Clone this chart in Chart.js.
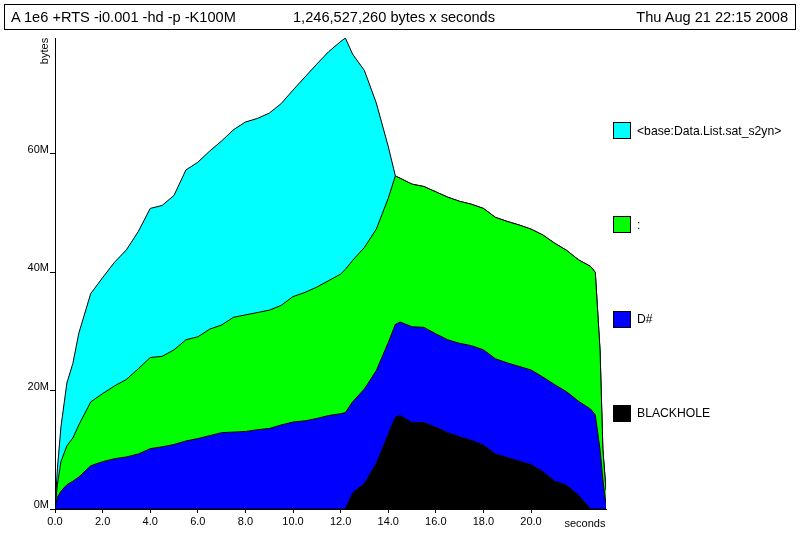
<!DOCTYPE html>
<html>
<head>
<meta charset="utf-8">
<title>heap profile</title>
<script src="https://cdn.jsdelivr.net/npm/chart.js@4.4.1/dist/chart.umd.min.js"></script>
<style>
  html, body { margin: 0; padding: 0; background: #fff; }
  body { position: relative; width: 800px; height: 533px; overflow: hidden;
         font-family: "Liberation Sans", Arial, sans-serif; color: #000; }
  canvas { position: absolute; left: 0; top: 0; }
  #titlebox { position: absolute; left: 4px; top: 4px; width: 790px; height: 24px;
              border: 1px solid #000; font-size: 14.6px; line-height: 24px; }
  #titlebox span { position: absolute; top: 0; white-space: nowrap; }
  .legend-box { position: absolute; left: 613px; width: 16px; height: 15px; border: 1px solid #000; }
  .legend-text { position: absolute; left: 637px; font-size: 12.2px; line-height: 14px; white-space: nowrap; }
  #ylabel { position: absolute; left: 24px; top: 44px; width: 40px; height: 14px; font-size: 11px;
            line-height: 14px; text-align: center; transform: rotate(-90deg); }
  #xlabel { position: absolute; left: 555px; top: 516px; width: 60px; font-size: 11px;
            line-height: 14px; text-align: center; }
</style>
</head>
<body>
<canvas id="heapChart" width="800" height="533"></canvas>
<div id="titlebox">
  <span style="left:6px">A 1e6 +RTS -i0.001 -hd -p -K100M</span>
  <span style="left:288px">1,246,527,260 bytes x seconds</span>
  <span style="right:7px">Thu Aug 21 22:15 2008</span>
</div>
<div id="ylabel">bytes</div>
<div id="xlabel">seconds</div>
<div id="legend"></div>
<script>
// sample times (seconds)
const times = [0, 0.1, 0.25, 0.5, 0.75, 1, 1.5, 2, 2.5, 3, 3.5, 4, 4.5, 5, 5.5, 6, 6.5, 7, 7.5, 8,
  8.5, 9, 9.5, 10, 10.5, 11, 11.5, 12, 12.2, 12.5, 13, 13.5, 14, 14.3, 14.5, 15, 15.5, 16, 16.5, 17,
  17.5, 18, 18.5, 19, 19.5, 20, 20.5, 21, 21.5, 22, 22.5, 22.7, 22.9, 23.02, 23.15];

// heap per closure type, in M bytes (bottom band first)
const blackhole = [0, 0, 0, 0, 0, 0, 0, 0, 0, 0, 0, 0, 0, 0, 0, 0, 0, 0, 0, 0,
  0, 0, 0, 0, 0, 0, 0, 0, 0, 2.7, 4.3, 7.7, 12.6, 15.5, 15.8, 14.6, 14.6, 13.8, 12.9, 12.2,
  11.6, 10.8, 9.3, 8.7, 8.1, 7.5, 6.3, 4.7, 4.0, 2.3, 0, 0, 0, 0, 0];
const dHash = [0, 2.0, 3.0, 4.1, 4.7, 5.4, 7.3, 8.0, 8.5, 8.8, 9.3, 10.2, 10.5, 10.9, 11.5, 11.9, 12.4, 12.9, 13.0, 13.1,
  13.4, 13.6, 14.2, 14.7, 14.9, 15.3, 15.8, 16.1, 16.3, 15.4, 16.0, 15.7, 15.5, 15.7, 15.8, 16.2, 16.1, 15.8, 15.7, 15.8,
  16.0, 16.1, 16.1, 16.0, 16.0, 16.0, 16.0, 16.3, 15.8, 15.9, 16.9, 15.9, 10.0, 4.9, 0.7];
const cons = [0, 2.1, 5.0, 6.6, 7.3, 8.8, 10.8, 11.5, 12.3, 13.1, 14.4, 15.4, 15.3, 16.0, 17.1, 17.2, 18.0, 18.2, 19.4, 19.7,
  19.8, 20.0, 20.2, 21.2, 21.7, 22.2, 22.8, 23.6, 24.2, 23.9, 23.9, 23.9, 24.4, 25.1, 24.3, 24.1, 23.8, 24.0, 24.1, 24.0,
  23.9, 23.9, 23.9, 23.9, 23.9, 23.8, 24.0, 23.9, 23.9, 23.9, 24.1, 24.1, 16.8, 5.1, 2.5];
const satS2yn = [0, 2.7, 5.9, 10.6, 12.6, 15.5, 18.3, 19.6, 20.9, 21.9, 23.2, 25.2, 25.5, 26.1, 28.7, 29.5, 30.1, 31.1, 31.7, 32.6,
  32.8, 33.3, 34.1, 34.9, 36.4, 37.7, 38.7, 39.3, 39.1, 34.9, 29.9, 21.3, 8.8, 0, 0, 0, 0, 0, 0, 0,
  0, 0, 0, 0, 0, 0, 0, 0, 0, 0, 0, 0, 0, 0, 0];

const bandNames = ['BLACKHOLE', 'D#', ':', '<base:Data.List.sat_s2yn>'];
const bandColors = ['#000000', '#0000ff', '#00ff00', '#00ffff'];
const xTicks = [0, 2, 4, 6, 8, 10, 12, 14, 16, 18, 20];
const yTicks = [0, 20, 40, 60];

const bands = [blackhole, dHash, cons, satS2yn];

Chart.defaults.font.family = '"Liberation Sans", Arial, sans-serif';
Chart.defaults.color = '#000';

new Chart(document.getElementById('heapChart'), {
  type: 'line',
  data: {
    datasets: bands.map((vals, i) => ({
      label: bandNames[i],
      data: times.map((t, j) => ({ x: t, y: vals[j] })),
      backgroundColor: bandColors[i],
      borderColor: '#000',
      borderWidth: 1,
      pointRadius: 0,
      tension: 0,
      fill: i === 0 ? 'origin' : '-1'
    }))
  },
  options: {
    responsive: false,
    animation: false,
    layout: { padding: { left: 0, top: 38, right: 194, bottom: 0 } },
    plugins: {
      legend: { display: false },
      tooltip: { enabled: false }
    },
    scales: {
      x: {
        type: 'linear',
        min: 0,
        max: 23.15,
        afterBuildTicks: s => { s.ticks = xTicks.map(v => ({ value: v })); },
        afterFit: s => { s.height = 24; },
        ticks: { callback: v => v.toFixed(1), font: { size: 11 }, padding: 2, maxRotation: 0 },
        grid: { drawOnChartArea: false, tickLength: 4, color: '#000' },
        border: { color: '#000', width: 1 }
      },
      y: {
        stacked: true,
        min: 0,
        max: 79.6,
        afterBuildTicks: s => { s.ticks = yTicks.map(v => ({ value: v })); },
        afterFit: s => { s.width = 55; },
        ticks: { callback: v => v + 'M', font: { size: 11 }, padding: 1, labelOffset: -4 },
        grid: { drawOnChartArea: false, tickLength: 5, color: '#000' },
        border: { color: '#000', width: 1 }
      }
    }
  }
});

// legend on the right, top band first
const legend = document.getElementById('legend');
for (let k = 0; k < bandNames.length; k++) {
  const i = bandNames.length - 1 - k;
  const top = 122 + k * 94.3;
  const box = document.createElement('div');
  box.className = 'legend-box';
  box.style.top = top + 'px';
  box.style.background = bandColors[i];
  const txt = document.createElement('div');
  txt.className = 'legend-text';
  txt.style.top = (top + 1.5) + 'px';
  txt.textContent = bandNames[i];
  legend.appendChild(box);
  legend.appendChild(txt);
}
</script>
</body>
</html>
